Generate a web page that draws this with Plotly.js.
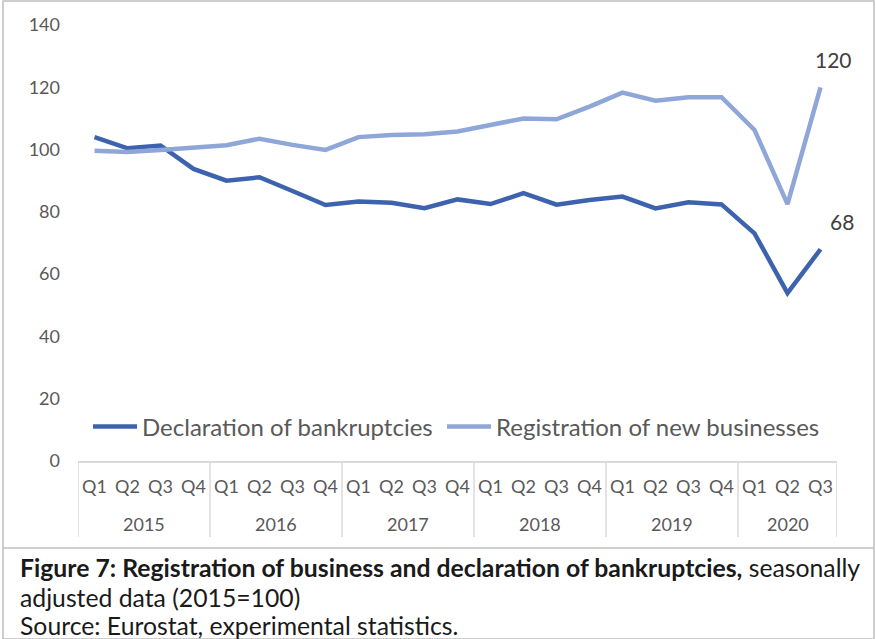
<!DOCTYPE html>
<html>
<head>
<meta charset="utf-8">
<script src="https://cdn.plot.ly/plotly-3.0.1.min.js"></script>
<style>
html,body{margin:0;padding:0;background:#fff;}
#chart{width:876px;height:639px;}
</style>
</head>
<body>
<div id="chart"></div>
<script>
const years = ["2015","2015","2015","2015","2016","2016","2016","2016","2017","2017","2017","2017","2018","2018","2018","2018","2019","2019","2019","2019","2020","2020","2020"];
const quarters = ["Q1","Q2","Q3","Q4","Q1","Q2","Q3","Q4","Q1","Q2","Q3","Q4","Q1","Q2","Q3","Q4","Q1","Q2","Q3","Q4","Q1","Q2","Q3"];
const bankruptcies = [104.0,100.4,101.3,93.8,90.0,91.1,86.7,82.2,83.3,82.9,81.2,84.0,82.5,86.0,82.3,83.8,84.9,81.1,83.1,82.4,73.1,53.9,68];
const registrations = [99.6,99.2,99.9,100.8,101.4,103.5,101.5,99.9,104.0,104.7,104.9,105.8,107.9,110.0,109.7,113.8,118.3,115.7,116.8,116.8,106.3,82.5,120];
const seriesNames = ["Declaration of bankruptcies","Registration of new businesses"];
const yTicks = [0,20,40,60,80,100,120,140];

const W = 876, H = 639;
const M = {l:78, r:39, t:25, b:178};
const pw = W - M.l - M.r, ph = H - M.t - M.b;
const px = x => (x - M.l) / pw;
const py = y => (H - M.b - y) / ph;

const font = "Lato, 'Open Sans', sans-serif";
const idx = quarters.map((_, i) => i);
const last = idx.length - 1;

// year groups derived from the years array
const groups = [];
years.forEach((y, i) => {
  if (!groups.length || groups[groups.length-1].year !== y) groups.push({year:y, start:i, end:i});
  else groups[groups.length-1].end = i;
});

const traces = [
  {x:idx, y:bankruptcies, type:'scatter', mode:'lines', name:seriesNames[0], legendwidth:295,
   line:{color:'#3D63AE', width:4.5}},
  {x:idx, y:registrations, type:'scatter', mode:'lines', name:seriesNames[1],
   line:{color:'#8FA6D8', width:4.5}}
];

const shapes = [
  {type:'rect', xref:'paper', yref:'paper', x0:px(3), x1:px(874), y0:py(1), y1:py(639), line:{color:'#BFBFBF', width:1.5}},
  {type:'line', xref:'paper', yref:'paper', x0:px(3), x1:px(874), y0:py(548), y1:py(548), line:{color:'#BFBFBF', width:1.5}}
];
const bounds = groups.map(g => g.start - 0.5).concat([last + 0.5]);
bounds.forEach(b => shapes.push({type:'line', xref:'x', yref:'paper', x0:b, x1:b, y0:py(462), y1:py(537),
  line:{color:'#D9D9D9', width:1.5}}));

const annotations = [
  {x:last, y:registrations[last], xref:'x', yref:'y', text:String(Math.round(registrations[last])),
   showarrow:false, xanchor:'center', yanchor:'bottom', xshift:13, yshift:13, font:{size:21, color:'#404040'}},
  {x:last, y:bankruptcies[last], xref:'x', yref:'y', text:String(Math.round(bankruptcies[last])),
   showarrow:false, xanchor:'center', yanchor:'bottom', xshift:21, yshift:13, font:{size:21, color:'#404040'}},
  {x:px(18), y:py(567), xref:'paper', yref:'paper', xanchor:'left', yanchor:'middle', showarrow:false, align:'left',
   text:'<b>Figure 7: Registration of business and declaration of bankruptcies,</b> seasonally',
   font:{size:24.75, color:'#1a1a1a', family:font}},
  {x:px(18), y:py(597), xref:'paper', yref:'paper', xanchor:'left', yanchor:'middle', showarrow:false, align:'left',
   text:'adjusted data (2015=100)', font:{size:24.75, color:'#1a1a1a', family:font}},
  {x:px(18), y:py(625), xref:'paper', yref:'paper', xanchor:'left', yanchor:'middle', showarrow:false, align:'left',
   text:'Source: Eurostat, experimental statistics.', font:{size:24.75, color:'#1a1a1a', family:font}}
];
groups.forEach(g => annotations.push({x:(g.start + g.end) / 2, y:py(524), xref:'x', yref:'paper',
  text:g.year, showarrow:false, xanchor:'center', yanchor:'middle', font:{size:18, color:'#595959'}}));

const layout = {
  width:W, height:H,
  margin:M,
  paper_bgcolor:'#fff', plot_bgcolor:'#fff',
  font:{family:font, color:'#595959'},
  showlegend:true,
  legend:{orientation:'h', x:px(88), y:py(427), xanchor:'left', yanchor:'middle',
    font:{size:24, color:'#595959'}, bgcolor:'rgba(0,0,0,0)', itemwidth:44},
  xaxis:{range:[-0.5, last+0.5], tickvals:idx, ticktext:quarters, showgrid:false, zeroline:false,
    showline:true, linecolor:'#D9D9D9', linewidth:1.5,
    tickfont:{size:18, color:'#595959'}, ticks:'', ticklabelstandoff:9, fixedrange:true},
  yaxis:{range:[0,140], tickvals:yTicks, showgrid:false, zeroline:false, showline:false,
    tickfont:{size:18, color:'#595959'}, ticks:'', ticklabelstandoff:17},
  annotations:annotations,
  shapes:shapes
};

Plotly.newPlot('chart', traces, layout, {displayModeBar:false, staticPlot:true});
</script>
</body>
</html>
